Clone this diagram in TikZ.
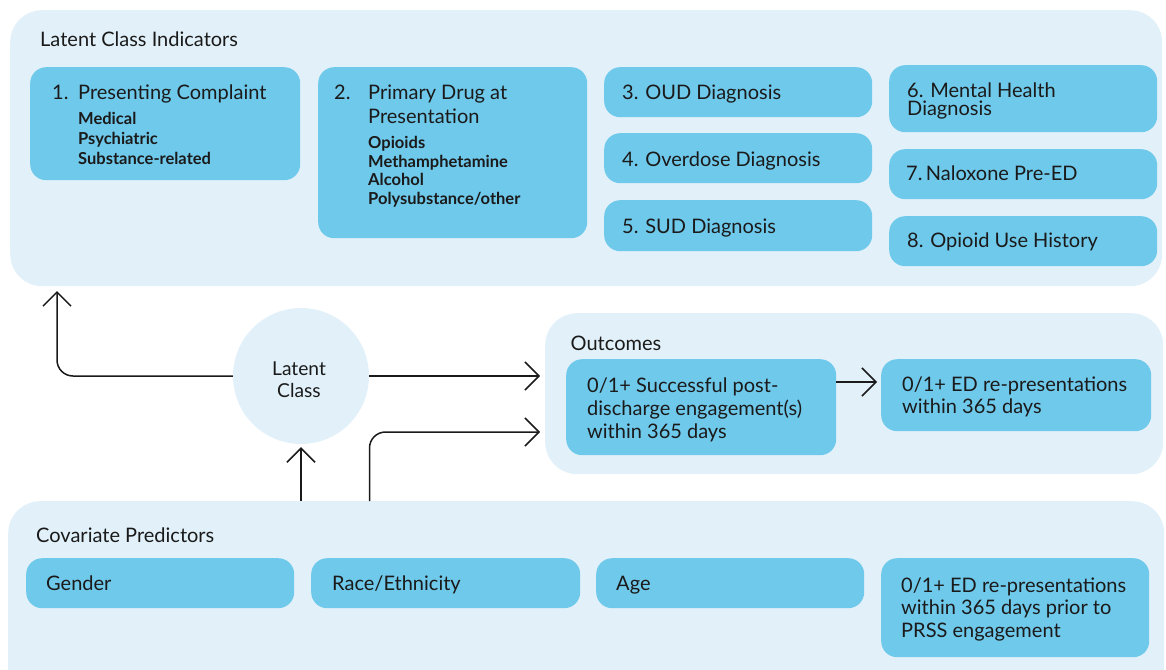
\documentclass[tikz,border=0pt]{standalone}
\usepackage{fontspec}
\setmainfont{Lato}
\usetikzlibrary{arrows.meta}
\definecolor{panelc}{HTML}{E2F1F9}
\definecolor{boxc}{HTML}{6FC9EB}
\definecolor{inkc}{HTML}{1A1A1A}
\begin{document}
\begin{tikzpicture}[x=1pt,y=-1pt,
  panel/.style={fill=panelc, draw=none, rounded corners=32pt, anchor=north west, inner sep=0pt},
  bx/.style={fill=boxc, draw=none, rounded corners=16pt, anchor=north west, inner sep=0pt},
  ttl/.style={anchor=base west, inner sep=0pt, text=inkc, font=\fontsize{20}{23}\selectfont},
  tx/.style={anchor=base west, inner sep=0pt, text=inkc, font=\fontsize{20}{23}\selectfont},
  it/.style={anchor=base west, inner sep=0pt, text=inkc, font=\fontsize{16.5}{19}\selectfont\bfseries},
  arr/.style={-{Straight Barb[length=14pt,width=28pt,line width=1.5pt]}, line width=1.5pt, draw=inkc, rounded corners=16pt}]
\useasboundingbox (0,0) rectangle (1166,669);
\clip (0,0) rectangle (1166,669);
% panels
\node[panel, minimum width=1152pt, minimum height=276pt] (top) at (10,10) {};
\node[panel, minimum width=618pt, minimum height=161pt] (outp) at (545,313) {};
\node[panel, minimum width=1156pt, minimum height=200pt] (bot) at (8,501) {};
% top panel
\node[ttl] (ttop) at (40,47) {Latent Class Indicators};
\node[bx, minimum width=270pt, minimum height=113pt] (b1) at (30,67) {};
\node[tx] (b1n) at (52,99) {1.};
\node[tx] (b1a) at (78,99) {Presenting Complaint};
\node[it] (b1b) at (78,124.5) {Medical};
\node[it] (b1c) at (78,144.5) {Psychiatric};
\node[it] (b1d) at (78,164.5) {Substance-related};
\node[bx, minimum width=269pt, minimum height=171pt] (b2) at (318,67) {};
\node[tx] (b2n) at (334,99) {2.};
\node[tx] (b2a) at (368,99) {Primary Drug at};
\node[tx] (b2b) at (368,123) {Presentation};
\node[it] (b2c) at (368,148.5) {Opioids};
\node[it] (b2d) at (368,167.5) {Methamphetamine};
\node[it] (b2e) at (368,185.5) {Alcohol};
\node[it] (b2f) at (368,204.5) {Polysubstance/other};
\node[bx, minimum width=268pt, minimum height=50pt] (b3) at (604,67) {};
\node[tx] (b3t) at (622,99) {3. OUD Diagnosis};
\node[bx, minimum width=268pt, minimum height=50pt] (b4) at (604,133) {};
\node[tx] (b4t) at (622,166) {4. Overdose Diagnosis};
\node[bx, minimum width=268pt, minimum height=51pt] (b5) at (604,200) {};
\node[tx] (b5t) at (622,233) {5. SUD Diagnosis};
\node[bx, minimum width=268pt, minimum height=67pt] (b6) at (889,65) {};
\node[tx] (b6a) at (907,97.5) {6. Mental Health};
\node[tx] (b6b) at (907,115.5) {Diagnosis};
\node[bx, minimum width=268pt, minimum height=50pt] (b7) at (889,149) {};
\node[tx] (b7t) at (906,180) {7.\,Naloxone Pre-ED};
\node[bx, minimum width=268pt, minimum height=50pt] (b8) at (889,216) {};
\node[tx] (b8t) at (907,247) {8. Opioid Use History};
% latent class
\node[circle, fill=panelc, minimum size=136pt, inner sep=0pt] (lc) at (301,376) {};
\node[anchor=base, inner sep=0pt, text=inkc, font=\fontsize{19.2}{22}\selectfont] (lc1) at (299,375) {Latent};
\node[anchor=base, inner sep=0pt, text=inkc, font=\fontsize{19.2}{22}\selectfont] (lc2) at (299,397) {Class};
% outcomes
\node[ttl] (tout) at (570.5,350) {Outcomes};
\node[bx, minimum width=270pt, minimum height=96pt] (o1) at (566,359) {};
\node[tx] (o1a) at (587,392) {0/1+ Successful post-};
\node[tx] (o1b) at (587,415) {discharge engagement(s)};
\node[tx] (o1c) at (587,438) {within 365 days};
\node[bx, minimum width=270pt, minimum height=72pt] (o2) at (881,359) {};
\node[tx] (o2a) at (902,391) {0/1+ ED re-presentations};
\node[tx] (o2b) at (902,413.5) {within 365 days};
% covariates
\node[ttl] (tbot) at (36,542) {Covariate Predictors};
\node[bx, minimum width=268pt, minimum height=50pt] (c1) at (26,558) {};
\node[tx] (c1t) at (46,590) {Gender};
\node[bx, minimum width=269pt, minimum height=50pt] (c2) at (311,558) {};
\node[tx] (c2t) at (332,590) {Race/Ethnicity};
\node[bx, minimum width=268pt, minimum height=50pt] (c3) at (596,558) {};
\node[tx] (c3t) at (616,590) {Age};
\node[bx, minimum width=268pt, minimum height=99pt] (c4) at (881,558) {};
\node[tx] (c4a) at (901,592) {0/1+ ED re-presentations};
\node[tx] (c4b) at (901,614.5) {within 365 days prior to};
\node[tx] (c4c) at (901,637) {PRSS engagement};
% connectors
\coordinate (tin) at (57,291);
\coordinate (oin1) at (540,376);
\coordinate (oin2) at (540,432);
\coordinate (bs1) at (301,501);
\coordinate (bs2) at (369.5,501);
\draw[arr] (lc.west) -| (tin);
\draw[arr] (lc.east) -- (oin1);
\draw[arr] (bs2) |- (oin2);
\draw[arr] (bs1) -- ([yshift=-3pt]lc.south);
\draw[arr] (o1.east |- 0,382) -- ([xshift=-4pt]o2.west |- 0,382);
\end{tikzpicture}
\end{document}
